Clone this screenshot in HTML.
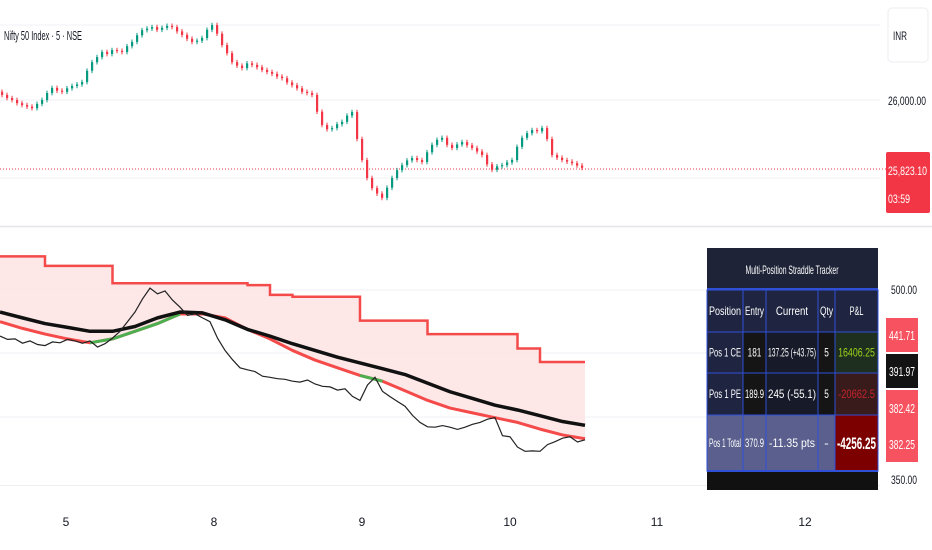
<!DOCTYPE html>
<html><head><meta charset="utf-8"><style>
html,body{margin:0;padding:0;background:#fff;}
body{width:932px;height:550px;overflow:hidden;position:relative;font-family:"Liberation Sans",sans-serif;}
svg{position:absolute;left:0;top:0;}
text{font-family:"Liberation Sans",sans-serif;}
</style></head><body>
<svg id="chart" width="932" height="550"></svg>
<script>
// ---- data ----
const priceCloses=[26013,26005,26000,25992,25987,25983,25979,25990,26000,26018,26031,26024,26021,26030,26036,26040,26046,26075,26097,26110,26123,26118,26128,26126,26123,26138,26149,26166,26179,26183,26187,26180,26185,26190,26187,26176,26167,26157,26149,26152,26159,26180,26192,26170,26141,26120,26097,26088,26082,26094,26090,26084,26077,26072,26067,26060,26056,26045,26038,26030,26021,26018,26013,25970,25936,25925,25928,25938,25944,25960,25969,25900,25846,25800,25774,25760,25749,25775,25800,25820,25833,25845,25851,25846,25841,25866,25885,25898,25903,25885,25877,25886,25892,25884,25877,25868,25859,25835,25821,25830,25833,25840,25846,25880,25903,25915,25923,25920,25928,25900,25859,25852,25846,25842,25838,25832,25826];
const upperBand=[526.5,526.5,519,519,519,505.3,505.3,505.3,505.3,505.3,505.3,503.8,496.2,494.7,494.7,494.7,475.8,475.8,475.8,465.2,465.2,465.2,465.2,453.8,443.2,443.2,443.2];
const emaLine=[482.6,478,473.5,470.5,467.4,467.4,471.2,478,482.6,481.9,476.5,468.9,463.6,457.6,452.3,447,442.4,437.9,433.3,426.5,419.7,414.4,409.1,405.3,400.8,396.2,393.2];
const lowerLine=[475,469.7,465.2,461.4,458.3,461.4,467.4,473.5,481.1,481.1,478,468.9,461.4,452.3,444.7,438.6,432.6,428,420.5,412.9,406.8,403,399.2,395.5,390.2,385.6,382.6];
const greenFlags=[0,0,0,0,1,1,1,1,0,0,0,0,0,0,0,0,1,0,0,0,0,0,0,0,0,0,0];
const straddle=[463.6,461,461.4,458,459.8,457,456.1,459,458.3,461,459.8,458,459.8,455,457.6,462,467.4,475,482.6,493,501.5,497,499.2,492,486.4,480,481.1,478,475,462,452.3,445,438.6,437,435.6,432,431.1,430,429.5,428,427.3,429,425.8,424,423.5,421,422,416,412.9,425,431.1,420,415.9,412,408.3,401,395.5,392,391.7,393,391.7,390,391.7,394,395.5,398,399.2,385,384.1,376,372.7,373,372.7,378,380.3,383,384.1,380,381.8];
const dayLabels=["5","8","9","10","11","12"];
const dayX=[66,214,362,510,657,805];

const NS="http://www.w3.org/2000/svg";
const svg=document.getElementById('chart');
function mk(tag,attrs,parent){const e=document.createElementNS(NS,tag);for(const k in attrs)e.setAttribute(k,attrs[k]);(parent||svg).appendChild(e);return e;}
const yTop=p=>100+(26000-p)*0.39;
const yBot=v=>290+(500-v)*1.267;
const xTop=i=>2+i*5;
const xBand=i=>i*22.5;
const xStr=i=>i*585/(straddle.length-1);

[25,100,178].forEach(y=>{const l=mk('line',{x1:0,x2:880,y1:y,y2:y,stroke:'#f0f1f4','stroke-width':1});});
[290,353,417].forEach(y=>{const l=mk('line',{x1:0,x2:880,y1:y,y2:y,stroke:'#f0f1f4','stroke-width':1});});
let sep=mk('line',{x1:0,x2:932,y1:226.5,y2:226.5,stroke:'#e3e5ea','stroke-width':1.5});

let ax=mk('line',{x1:0,x2:880,y1:485.5,y2:485.5,stroke:'#eceef1','stroke-width':1});


let pl=mk('line',{x1:0,x2:886,y1:yTop(25823.1),y2:yTop(25823.1),stroke:'#f23645','stroke-width':1,'stroke-dasharray':'1 2'});


priceCloses.forEach((c,i)=>{
  const o=i?priceCloses[i-1]:c+8;
  const col=c>=o?'#089981':'#f23645';
  const x=xTop(i);
  const g=mk('g',{});
  
  mk('line',{x1:x,x2:x,y1:yTop(Math.max(o,c)+6),y2:yTop(Math.min(o,c)-6),stroke:col,'stroke-width':1},g);
  const yt=yTop(Math.max(o,c)),yb=yTop(Math.min(o,c));
  mk('rect',{x:x-1,y:yt,width:2.2,height:Math.max(1,yb-yt),fill:col},g);
});

let d='';
upperBand.forEach((v,i)=>{d+=(i?'L':'M')+xBand(i)+','+yBot(v)+(i<upperBand.length-1?'L'+xBand(i+1)+','+yBot(v):'');});
const du=d;
for(let i=lowerLine.length-1;i>=0;i--)d+='L'+xBand(i)+','+yBot(lowerLine[i]);
let fill=mk('path',{d:d+'Z',fill:'#fde3e3',opacity:0.85});

let up=mk('path',{d:du,fill:'none',stroke:'#f44a4a','stroke-width':2.5});

let dl=lowerLine.map((v,i)=>(i?'L':'M')+xBand(i)+','+yBot(v)).join('');
let lo=mk('path',{d:dl,fill:'none',stroke:'#f44a4a','stroke-width':3,'stroke-linejoin':'round'});

for(let i=0;i<lowerLine.length-1;i++){if(greenFlags[i]){
  const s=mk('line',{x1:xBand(i),y1:yBot(lowerLine[i]),x2:xBand(i+1),y2:yBot(lowerLine[i+1]),stroke:'#4caf50','stroke-width':3});
  }}
let de=emaLine.map((v,i)=>(i?'L':'M')+xBand(i)+','+yBot(v)).join('');
let em=mk('path',{d:de,fill:'none',stroke:'#111','stroke-width':3.5,'stroke-linejoin':'round'});

let ds=straddle.map((v,i)=>(i?'L':'M')+xStr(i).toFixed(1)+','+yBot(v).toFixed(1)).join('');
let st=mk('path',{d:ds,fill:'none',stroke:'#222','stroke-width':1.2});


let t=mk('text',{x:4,y:40,'font-size':13,fill:'#131722',textLength:78,lengthAdjust:'spacingAndGlyphs'});t.textContent='Nifty 50 Index · 5 · NSE';


let inr=mk('rect',{x:888,y:8,width:40,height:54,rx:4,fill:'#fff',stroke:'#eceef1'});

let it=mk('text',{x:893,y:40,'font-size':12,fill:'#131722',textLength:14,lengthAdjust:'spacingAndGlyphs'});it.textContent='INR';

let t26=mk('text',{x:888,y:105,'font-size':12,fill:'#131722',textLength:38,lengthAdjust:'spacingAndGlyphs'});t26.textContent='26,000.00';

let lb=mk('rect',{x:886,y:152,width:44,height:61,rx:2,fill:'#f23645'});

let lt=mk('text',{x:888,y:175,'font-size':12,fill:'#fff',textLength:39,lengthAdjust:'spacingAndGlyphs'});lt.textContent='25,823.10';

let lt2=mk('text',{x:888,y:203,'font-size':12,fill:'#fff',textLength:22,lengthAdjust:'spacingAndGlyphs'});lt2.textContent='03:59';


[['500.00',294],['350.00',484]].forEach(([s,y])=>{const e=mk('text',{x:891,y:y,'font-size':12,fill:'#131722',textLength:26,lengthAdjust:'spacingAndGlyphs'});e.textContent=s;});
[['441.71',318,34,'#f7525f','#fff'],['391.97',354,34,'#131313','#fff'],['382.42',390,36,'#f7525f','#fff'],['382.25',426,36,'#f7525f','#fff']].forEach(([s,y,h,bg,fg])=>{
  const r=mk('rect',{x:886,y:y,width:32,height:h,fill:bg});
  const e=mk('text',{x:889,y:y+h/2+5,'font-size':13,fill:fg,textLength:26,lengthAdjust:'spacingAndGlyphs'});e.textContent=s;});

dayLabels.forEach((s,i)=>{const e=mk('text',{x:dayX[i],y:526,'font-size':12,fill:'#131722','text-anchor':'middle'});e.textContent=s;});

const tb=mk('g',{});
const cols=[707,743,766,818,835,878];
const rows=[290,332,373,415,471];
mk('rect',{x:707,y:248,width:171,height:242,fill:'#1e2337'},tb);
mk('rect',{x:707,y:471,width:171,height:19,fill:'#111'},tb);
const cellBg=[
 ['#1f2540','#1f2540','#1f2540','#1f2540','#1f2540'],
 ['#1f2540','#151515','#171a28','#151515','#1e2f1f'],
 ['#1f2540','#151515','#171a28','#151515','#3a1b1b'],
 ['#5a5f8e','#5a5f8e','#5a5f8e','#5a5f8e','#7c0000']];
const cellTx=[
 ['Position','Entry','Current','Qty','P&L'],
 ['Pos 1 CE','181','137.25 (+43.75)','5','16406.25'],
 ['Pos 1 PE','189.9','245 (-55.1)','5','-20662.5'],
 ['Pos 1 Total','370.9','-11.35 pts','-','-4256.25']];
const cellCol=[['#fff','#fff','#fff','#fff','#fff'],['#fff','#fff','#fff','#fff','#9bd21c'],['#fff','#fff','#fff','#fff','#c3232b'],['#fff','#fff','#fff','#fff','#fff']];
for(let r=0;r<4;r++)for(let c=0;c<5;c++){
  const rc=mk('rect',{x:cols[c],y:rows[r],width:cols[c+1]-cols[c],height:rows[r+1]-rows[r],fill:cellBg[r][c],stroke:'#2f4fd6','stroke-width':1},tb);
  
  const big=(r==3&&c==4);
  const s=cellTx[r][c];
  const tl=Math.min(cols[c+1]-cols[c]-4,s.length*(big?7.6:4.6));
  const tx=mk('text',{x:(cols[c]+cols[c+1])/2,y:(rows[r]+rows[r+1])/2+(big?6:4),'font-size':big?17:12,'font-weight':big?'bold':'normal',fill:cellCol[r][c],'text-anchor':'middle',textLength:tl,lengthAdjust:'spacingAndGlyphs'},tb);
  tx.textContent=s;
}
mk('line',{x1:707,x2:878,y1:289,y2:289,stroke:'#2f4fd6','stroke-width':2},tb);
const tt=mk('text',{x:792,y:274,'font-size':12,fill:'#fff','text-anchor':'middle',textLength:93,lengthAdjust:'spacingAndGlyphs'},tb);
tt.textContent='Multi-Position Straddle Tracker';
mk('line',{x1:707,x2:878,y1:471,y2:471,stroke:'#2f4fd6','stroke-width':2},tb);
</script>
</body></html>
